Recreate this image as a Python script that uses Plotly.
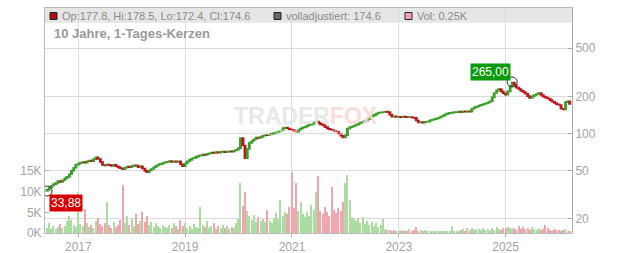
import numpy as np
import pandas as pd
import plotly.graph_objects as go

# ---------------- data (semi-monthly candles) ----------------
period_start = "2016-06-01"
period_end = "2026-03-15"

closes_2016 = [34.6, 36.2, 37.4, 38.6, 39.5, 40.8, 40.2, 41.5, 43.0, 44.2, 46.5, 49.8, 52.5, 55.6]
closes_2017 = [56.8, 57.9, 58.6, 57.8, 59.2, 60.1, 59.4, 61.8, 63.9, 62.0, 58.6, 55.4,
               54.8, 55.9, 55.2, 54.3, 55.6, 54.0, 52.9, 52.1, 51.2, 52.6, 53.8, 53.1]
closes_2018 = [54.2, 55.1, 54.6, 53.0, 54.1, 51.8, 49.5, 48.2, 50.1, 51.3, 53.0, 54.6,
               55.8, 56.5, 57.4, 58.2, 58.9, 59.6, 58.5, 59.3, 58.7, 59.4, 56.2, 54.1]
closes_2019 = [57.0, 59.3, 61.0, 62.6, 63.2, 64.5, 65.8, 66.4, 67.5, 66.9, 68.2, 69.0,
               70.1, 69.4, 70.6, 69.8, 70.9, 71.4, 70.5, 71.2, 71.8, 71.0, 72.4, 73.8]
closes_2020 = [76.0, 92.0, 80.0, 63.0, 75.0, 84.0, 87.0, 90.0, 93.0, 92.0, 94.0, 96.0,
               98.0, 97.0, 99.0, 100.0, 101.0, 103.0, 104.0, 106.0, 111.0, 112.0, 110.0, 108.0]
closes_2021 = [107.0, 105.0, 103.5, 107.0, 110.0, 112.5, 114.0, 116.5, 118.5, 120.0, 123.0, 125.5,
               122.0, 119.0, 117.0, 113.0, 109.5, 108.0, 106.5, 105.0, 103.5, 100.0, 96.0, 93.0]
closes_2022 = [97.0, 110.0, 113.0, 114.5, 116.0, 118.5, 121.0, 123.5, 125.0, 128.0, 131.0, 135.0,
               139.0, 142.5, 146.0, 148.5, 149.0, 150.5, 151.5, 150.0, 143.0, 137.5, 138.5, 137.0]
closes_2023 = [137.5, 136.5, 138.0, 137.0, 136.0, 137.0, 135.5, 134.5, 128.0, 123.5, 124.5, 123.0,
               125.0, 125.5, 128.0, 130.0, 131.5, 133.0, 135.0, 138.0, 141.0, 144.0, 146.5, 148.0]
closes_2024 = [148.5, 150.0, 150.5, 151.5, 150.0, 152.0, 151.0, 152.5, 151.5, 160.0, 164.0, 166.5,
               169.0, 172.0, 175.0, 177.0, 180.0, 184.0, 198.0, 215.0, 226.0, 232.0, 222.0, 214.0]
closes_2025 = [208.0, 222.0, 245.0, 262.0, 250.0, 238.0, 232.0, 224.0, 219.0, 212.0, 203.0, 196.0,
               202.0, 207.0, 211.0, 214.5, 207.0, 201.0, 197.0, 194.0, 188.0, 182.5, 178.0, 174.0]
closes_2026 = [171.5, 160.0, 157.5, 181.0, 184.0, 174.6]

first_open = 33.9
low_mark = 33.88
high_mark = 265.00

vol_2016 = [1.2, 2.5, 1.0, 1.8, 0.9, 1.5, 2.2, 1.1, 1.6, 2.8, 4.1, 3.2, 1.9, 1.4]
vol_2017 = [9.8, 2.1, 1.6, 5.7, 2.3, 1.4, 2.0, 1.2, 2.8, 3.6, 2.2, 1.8,
            2.5, 7.4, 1.9, 1.3, 2.6, 1.5, 2.0, 3.1, 11.7, 2.4, 4.2, 2.0]
vol_2018 = [3.6, 1.8, 4.5, 2.2, 3.0, 5.1, 2.7, 4.0, 1.9, 2.6, 1.5, 2.3,
            1.8, 1.2, 2.0, 1.4, 1.1, 1.9, 1.3, 2.4, 1.6, 1.0, 3.2, 1.7]
vol_2019 = [2.5, 1.3, 1.8, 1.0, 2.2, 1.5, 1.2, 6.4, 1.9, 1.4, 2.8, 1.1,
            1.7, 2.3, 1.0, 1.6, 1.3, 2.0, 1.2, 1.8, 0.9, 1.5, 1.1, 2.4]
vol_2020 = [3.5, 12.0, 6.5, 10.0, 5.2, 4.0, 3.1, 4.4, 2.6, 3.8, 2.9, 3.4,
            2.7, 5.5, 3.0, 2.4, 3.6, 4.8, 3.3, 8.0, 4.2, 5.0, 4.6, 6.2]
vol_2021 = [14.8, 6.0, 12.0, 5.4, 7.4, 4.5, 3.8, 5.0, 4.2, 6.8, 5.6, 10.0,
            13.8, 5.2, 4.6, 6.4, 5.0, 4.1, 11.2, 5.5, 4.8, 6.0, 5.3, 7.4]
vol_2022 = [12.0, 14.0, 8.0, 3.9, 3.4, 2.8, 3.6, 2.5, 3.9, 2.2, 3.0, 2.0,
            2.7, 1.6, 2.4, 1.4, 1.9, 3.3, 0.9, 0.7, 0.8, 0.6, 0.7, 0.5]
vol_2023 = [0.6, 0.4, 0.7, 0.5, 0.6, 0.9, 0.5, 0.7, 1.4, 0.6, 0.8, 0.5,
            0.7, 0.4, 0.6, 0.3, 0.5, 0.4, 0.6, 0.3, 0.5, 0.4, 0.3, 0.4]
vol_2024 = [1.6, 0.5, 0.4, 0.6, 0.7, 0.9, 0.6, 1.1, 0.8, 1.2, 0.7, 0.9,
            1.0, 0.8, 1.3, 0.7, 0.9, 0.6, 1.2, 0.8, 1.4, 1.0, 0.8, 1.1]
vol_2025 = [1.1, 1.5, 1.3, 0.9, 1.2, 0.8, 1.6, 1.0, 1.4, 0.9, 1.2, 0.7,
            1.5, 1.0, 0.8, 1.1, 0.7, 0.9, 1.9, 1.2, 0.8, 0.6, 0.9, 0.7]
vol_2026 = [0.8, 0.6, 0.7, 0.9, 0.5, 0.25]

year_ticks = ["2017-01-01", "2019-01-01", "2021-01-01", "2023-01-01", "2025-01-01"]
year_labels = ["2017", "2019", "2021", "2023", "2025"]
price_ticks = [20, 50, 100, 200, 500]
vol_ticks = [0, 5, 10, 15]
vol_labels = ["0K", "5K", "10K", "15K"]

header_ohlc = "Op:177.8, Hi:178.5, Lo:172.4, Cl:174.6"
header_adj = "volladjustiert: 174.6"
header_vol = "Vol: 0.25K"
subtitle = "10 Jahre, 1-Tages-Kerzen"

# ---------------- build ----------------
closes = (closes_2016 + closes_2017 + closes_2018 + closes_2019 + closes_2020 + closes_2021
          + closes_2022 + closes_2023 + closes_2024 + closes_2025 + closes_2026)
volumes = (vol_2016 + vol_2017 + vol_2018 + vol_2019 + vol_2020 + vol_2021
           + vol_2022 + vol_2023 + vol_2024 + vol_2025 + vol_2026)
dates = pd.date_range(period_start, period_end, freq="SMS")
n = min(len(dates), len(closes), len(volumes))
dates = dates[:n]
closes = np.array(closes[:n])
volumes = np.array(volumes[:n])
opens = np.concatenate([[first_open], closes[:-1]])
highs = np.maximum(opens, closes)
lows = np.minimum(opens, closes)
i_hi = int(np.argmax(highs))
i_lo = int(np.argmin(lows))
highs[i_hi] = max(highs[i_hi], high_mark)
lows[i_lo] = min(lows[i_lo], low_mark)

GREEN = "#3a9f2a"
RED = "#c0141b"
VGREEN = "#abdca2"
VRED = "#f1a6ae"
vol_colors = [VGREEN if c >= o else VRED for o, c in zip(opens, closes)]

FONT = "Liberation Sans, Arial, sans-serif"
GRID = "#dcdcdc"
TXT = "#a3a3a3"

fig = go.Figure()
fig.add_trace(go.Bar(x=dates, y=volumes, marker=dict(color=vol_colors, line=dict(width=0)),
                     width=8 * 24 * 3600 * 1000, yaxis="y", hoverinfo="skip"))
fig.add_trace(go.Candlestick(x=dates, open=opens, high=highs, low=lows, close=closes,
                             yaxis="y2", whiskerwidth=0,
                             increasing=dict(line=dict(color=GREEN, width=1.6), fillcolor=GREEN),
                             decreasing=dict(line=dict(color=RED, width=1.6), fillcolor=RED)))
fig.add_trace(go.Scatter(x=[dates[i_lo], dates[i_hi]], y=[lows[i_lo], highs[i_hi]], yaxis="y2",
                         mode="markers",
                         marker=dict(symbol="circle-open", size=10, color="#333",
                                     line=dict(width=1, color="#333"))))

L, R, T, B = 45, 60, 8, 20
W, H = 632, 253
PW, PH = W - L - R, H - T - B


def px(xp):
    return (xp - L) / PW


def py(yp):
    return (H - B - yp) / PH


shapes = [
    dict(type="rect", xref="paper", yref="paper", x0=0, x1=1, y0=py(22.7), y1=1,
         fillcolor="#e6e6e6", line=dict(width=0), layer="below"),
]
for x0, col in [(50, "#b01010"), (274, "#666666"), (405, "#f0a8b0")]:
    shapes.append(dict(type="rect", xref="paper", yref="paper", x0=px(x0), x1=px(x0 + 7),
                       y0=py(19.5), y1=py(12.5), fillcolor=col,
                       line=dict(width=1, color="#222"), layer="above"))

annotations = [
    dict(text=header_ohlc, x=px(60), y=py(16), xref="paper", yref="paper", xanchor="left",
         yanchor="middle", showarrow=False, font=dict(size=11, color="#8a8a8a", family=FONT)),
    dict(text=header_adj, x=px(284), y=py(16), xref="paper", yref="paper", xanchor="left",
         yanchor="middle", showarrow=False, font=dict(size=11, color="#8a8a8a", family=FONT)),
    dict(text=header_vol, x=px(415), y=py(16), xref="paper", yref="paper", xanchor="left",
         yanchor="middle", showarrow=False, font=dict(size=11, color="#8a8a8a", family=FONT)),
    dict(text="<b>" + subtitle + "</b>", x=px(52), y=py(33), xref="paper", yref="paper",
         xanchor="left", yanchor="middle", showarrow=False,
         font=dict(size=13, color="#999999", family=FONT)),
    dict(text="<b>TRADER<span style='color:#f9d6d6'>FOX</span></b>", x=px(306), y=py(116),
         xref="paper", yref="paper", xanchor="center", yanchor="middle", showarrow=False,
         font=dict(size=23, color="#e4e4e4", family=FONT), opacity=0.85),
    dict(text="REALTIME STOCK SCREENING", x=px(290), y=py(132), xref="paper", yref="paper",
         xanchor="center", yanchor="middle", showarrow=False,
         font=dict(size=7, color="#ececec", family=FONT)),
    dict(text="33,88", x=dates[i_lo], y=np.log10(lows[i_lo]), xref="x", yref="y2",
         xshift=19, yshift=-12, showarrow=False, bgcolor="#d40000", borderpad=1,
         font=dict(size=12, color="white", family=FONT)),
    dict(text="265,00", x=dates[i_hi], y=np.log10(highs[i_hi]), xref="x", yref="y2",
         xshift=-22, yshift=10, showarrow=False, bgcolor="#0b9a0b", borderpad=1,
         font=dict(size=12, color="white", family=FONT)),
]

fig.update_layout(
    width=W, height=H, margin=dict(l=L, r=R, t=T, b=B, autoexpand=False),
    paper_bgcolor="white", plot_bgcolor="white", showlegend=False,
    font=dict(family=FONT, color=TXT, size=12),
    shapes=shapes, annotations=annotations, bargap=0, boxgap=0.1,
    xaxis=dict(type="date", range=["2016-05-18", "2026-03-31"], tickvals=year_ticks,
               ticktext=year_labels, showgrid=True, gridcolor=GRID, gridwidth=1,
               ticks="outside", ticklen=3, tickcolor="#aaaaaa", showline=True,
               linecolor="#bbbbbb", mirror=True, rangeslider=dict(visible=False),
               tickfont=dict(size=12, color=TXT), zeroline=False, automargin=False),
    yaxis=dict(side="left", range=[0, 54.4], tickvals=vol_ticks, ticktext=vol_labels,
               showgrid=False, ticks="inside", ticklen=4, tickcolor="#aaaaaa", showline=True,
               linecolor="#bbbbbb", mirror=True, zeroline=False, automargin=False,
               tickfont=dict(size=12, color=TXT)),
    yaxis2=dict(type="log", overlaying="y", side="right", range=[1.186, 3.029],
                tickvals=price_ticks, ticktext=[str(v) for v in price_ticks],
                showgrid=True, gridcolor=GRID, gridwidth=1, ticks="inside", ticklen=4,
                tickcolor="#aaaaaa", showline=True, linecolor="#aaaaaa", zeroline=False,
                automargin=False, tickfont=dict(size=12, color=TXT)),
)

fig.write_html("out.html")
